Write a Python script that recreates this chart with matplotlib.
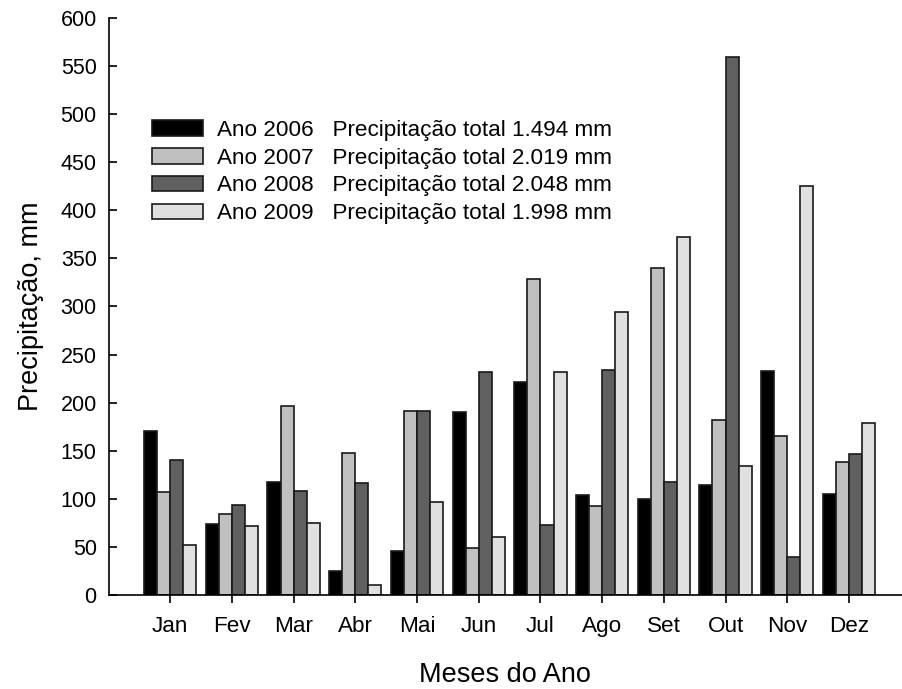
import matplotlib
matplotlib.use("Agg")
import matplotlib.pyplot as plt
import numpy as np

plt.rcParams['font.family'] = ['Liberation Sans', 'DejaVu Sans']

months = ["Jan", "Fev", "Mar", "Abr", "Mai", "Jun", "Jul", "Ago", "Set", "Out", "Nov", "Dez"]
p2006 = [171, 74, 117, 25, 46, 190, 222, 104, 100, 114, 233, 105]
p2007 = [107, 84, 197, 148, 191, 49, 329, 93, 340, 182, 165, 138]
p2008 = [140, 94, 108, 116, 191, 232, 73, 234, 118, 559, 40, 147]
p2009 = [52, 72, 75, 10, 97, 60, 232, 294, 372, 134, 425, 179]
labels = ["Ano 2006   Precipitação total 1.494 mm",
          "Ano 2007   Precipitação total 2.019 mm",
          "Ano 2008   Precipitação total 2.048 mm",
          "Ano 2009   Precipitação total 1.998 mm"]
colors = ["#000000", "#c0c0c0", "#606060", "#e0e0e0"]
yticks = list(range(0, 601, 50))

W, H = 902, 689
fig = plt.figure(figsize=(W / 100, H / 100), dpi=100)
ax = fig.add_axes([108.5 / W, 1 - 595 / H, 1 - 108.5 / W, (595 - 18) / H])

x = np.arange(len(months))
w = 0.212
series = [p2006, p2007, p2008, p2009]
for i, (vals, c, lab) in enumerate(zip(series, colors, labels)):
    ax.bar(x + (i - 1.5) * w, vals, width=w, color=c, edgecolor="#1a1a1a",
           linewidth=1.2, label=lab, zorder=2)

ax.set_xlim(-1.0, 11.86)
ax.set_ylim(0, 600)
ax.set_yticks(yticks)
ax.set_xticks(x)
ax.set_xticklabels(months, fontsize=16.2)
ax.tick_params(axis='y', direction='in', length=5.5, width=1.2, labelsize=15.5, pad=8.5)
ax.tick_params(axis='x', direction='out', length=5.5, width=1.2, pad=9.5)
for s in ["top", "right"]:
    ax.spines[s].set_visible(False)
for s in ["left", "bottom"]:
    ax.spines[s].set_linewidth(1.2)

ax.set_xlabel("Meses do Ano", fontsize=19.5, labelpad=18)
ax.set_ylabel("Precipitação, mm", fontsize=19.5, labelpad=12)

leg = fig.legend(loc="upper left", bbox_to_anchor=(152 / W, 1 - 120 / H),
                 frameon=False, fontsize=16.2, handlelength=2.27, handleheight=0.68,
                 handletextpad=0.62, labelspacing=0.3, borderpad=0, borderaxespad=0)

fig.savefig("out.png", dpi=100)
